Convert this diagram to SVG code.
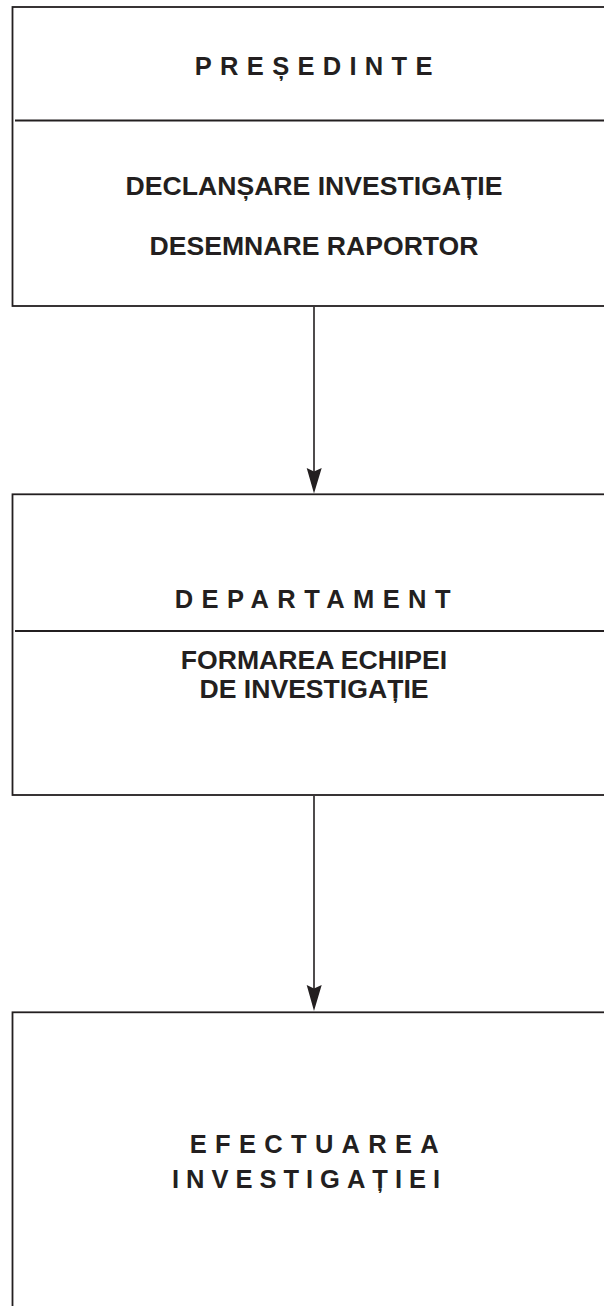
<svg xmlns="http://www.w3.org/2000/svg" width="604" height="1306" viewBox="0 0 604 1306">
<style>
.box{fill:#ffffff;stroke:#231f20;stroke-width:1.8}
.div{stroke:#231f20;stroke-width:1.8;fill:none}
.t{font-family:"Liberation Sans",Arial,sans-serif;font-weight:bold;fill:#231f20}
.sp{font-size:25.5px}
.nm{font-size:26.6px;text-anchor:middle}
.con{stroke:#231f20;stroke-width:1.6;fill:none}
.head{fill:#231f20;stroke:none}
</style>
<rect width="604" height="1306" fill="#ffffff"/>
<g id="node-presedinte">
<rect class="box" x="12.5" y="7" width="620" height="299"/>
<line class="div" x1="15" y1="120.5" x2="604" y2="120.5"/>
<text class="t sp" x="194.8" y="75" letter-spacing="8.3">PREȘEDINTE</text>
<text class="t nm" x="314" y="195">DECLANȘARE INVESTIGAȚIE</text>
<text class="t nm" x="314" y="254.5">DESEMNARE RAPORTOR</text>
</g>
<g id="node-departament">
<rect class="box" x="12.5" y="494.3" width="620" height="300.7"/>
<line class="div" x1="15" y1="631" x2="604" y2="631"/>
<text class="t sp" x="174.8" y="607.7" letter-spacing="8.4">DEPARTAMENT</text>
<text class="t nm" x="314" y="668.5">FORMAREA ECHIPEI</text>
<text class="t nm" x="314" y="697.7">DE INVESTIGAȚIE</text>
</g>
<g id="node-efectuarea">
<rect class="box" x="12.5" y="1012.3" width="620" height="320"/>
<text class="t sp" x="189.8" y="1153.3" letter-spacing="8.3">EFECTUAREA</text>
<text class="t sp" x="171.9" y="1187.7" letter-spacing="7">INVESTIGAȚIEI</text>
</g>
<g id="connectors">
<line class="con" x1="314" y1="307" x2="314" y2="472"/>
<path class="head" d="M306.7,468 L314,471.5 L321.7,468 L314,493.5 Z"/>
<line class="con" x1="314" y1="796" x2="314" y2="989"/>
<path class="head" d="M306.7,985 L314,988.5 L321.7,985 L314,1011 Z"/>
</g>
</svg>
